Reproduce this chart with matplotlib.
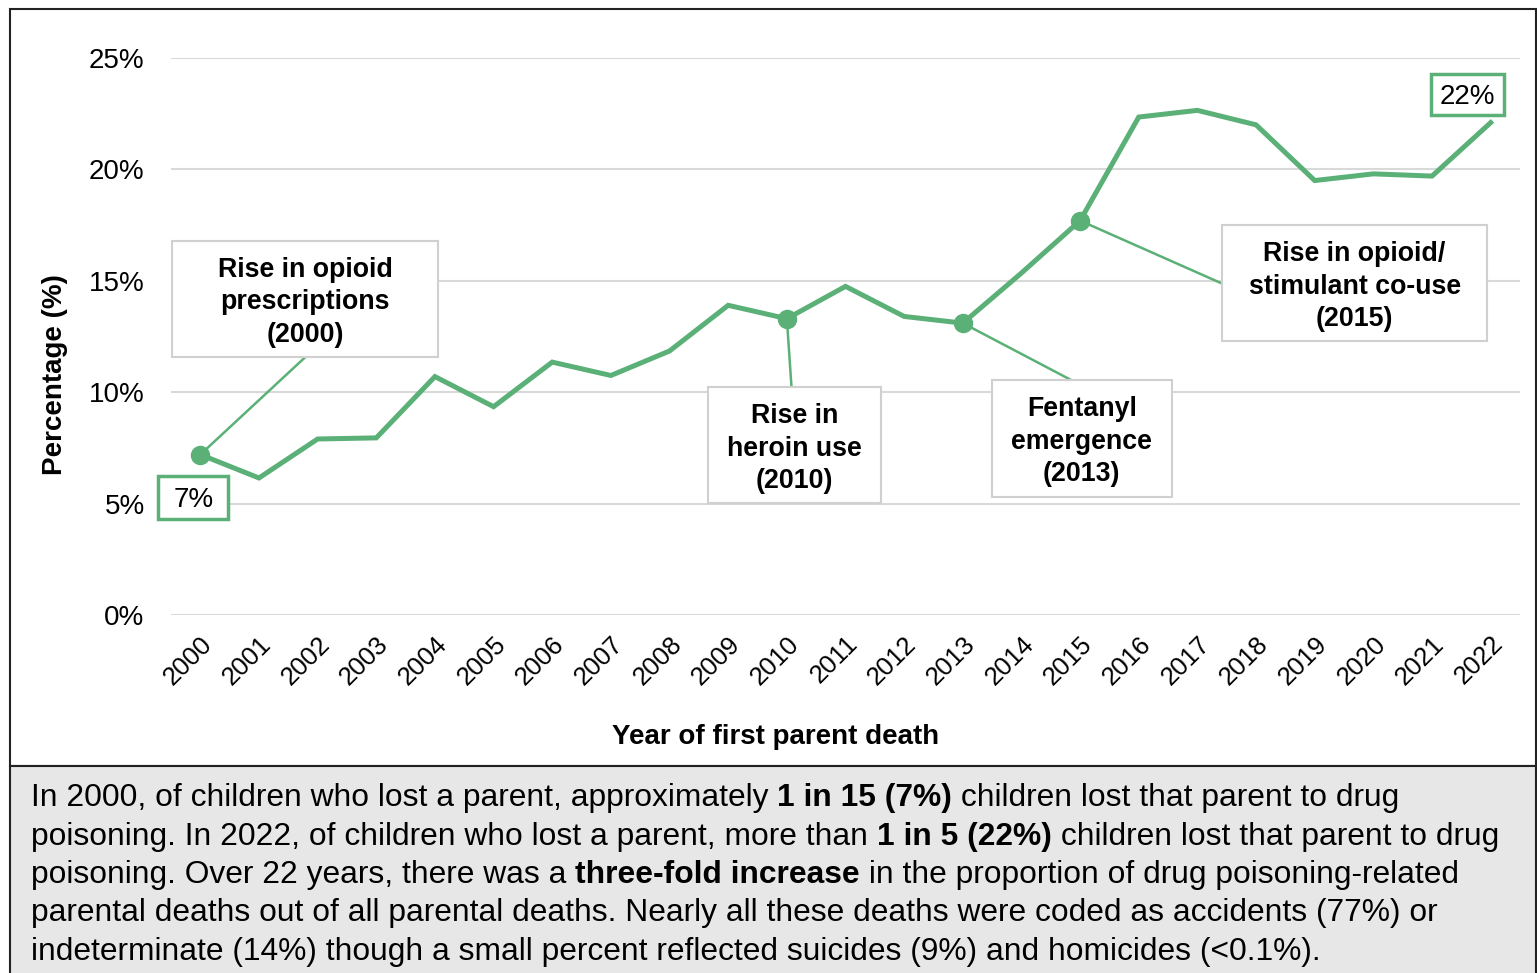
import numpy as np
import matplotlib.pyplot as plt
import matplotlib.transforms as mtransforms
from matplotlib.patches import Rectangle

plt.rcParams['font.family'] = ['Liberation Sans', 'DejaVu Sans']

# Data
years = [str(y) for y in range(2000, 2023)]
pct = [7.2, 6.15, 7.9, 7.95, 10.7, 9.35, 11.35, 10.75, 11.85, 13.9, 13.3,
       14.75, 13.4, 13.1, 15.35, 17.7, 22.35, 22.65, 22.0, 19.5, 19.8, 19.7, 22.1]
y_ticks = [0, 5, 10, 15, 20, 25]

# events: (year index, text, box centre x, box centre y, box w, box h, line end x, line end y)
events = [
    (0, "Rise in opioid\nprescriptions\n(2000)", 1.79, 14.19, 4.53, 5.21, 1.80, 11.6),
    (10, "Rise in\nheroin use\n(2010)", 10.13, 7.63, 2.95, 5.20, 10.08, 10.2),
    (13, "Fentanyl\nemergence\n(2013)", 15.03, 7.93, 3.08, 5.25, 14.88, 10.5),
    (15, "Rise in opioid/\nstimulant co-use\n(2015)", 19.68, 14.9, 4.51, 5.20, 17.40, 14.9),
]
end_labels = [(0, "7%", -0.12, 5.28, 1.19, 1.93), (22, "22%", 21.6, 23.36, 1.24, 1.84)]

green = '#5BB077'
W, H = 1537, 973

fig = plt.figure(figsize=(W / 100, H / 100), dpi=100)
ax = fig.add_axes([171 / W, 1 - 615 / H, 1349 / W, 557 / H])

x = np.arange(len(years))
ax.plot(x, pct, color=green, lw=3.6, zorder=4, solid_joinstyle='miter')

for idx, txt, cx, cy, bw, bh, lx, ly in events:
    ax.plot([idx, lx], [pct[idx], ly], color=green, lw=1.8, zorder=2)
    ax.plot(idx, pct[idx], 'o', color=green, ms=13, zorder=5)
    ax.add_patch(Rectangle((cx - bw / 2, cy - bh / 2), bw, bh, facecolor='white',
                           edgecolor='#d0d0d0', lw=1.5, zorder=3))
    ax.text(cx, cy - 0.16, txt, ha='center', va='center', fontsize=19.3, fontweight='bold',
            linespacing=1.32, zorder=6)

for idx, txt, cx, cy, bw, bh in end_labels:
    ax.add_patch(Rectangle((cx - bw / 2, cy - bh / 2), bw, bh, facecolor='white',
                           edgecolor=green, lw=2.5, zorder=3, clip_on=False))
    ax.text(cx, cy - 0.12, txt, ha='center', va='center', fontsize=20, zorder=6)

ax.set_xlim(-0.5, len(years) - 0.5)
ax.set_ylim(0, 25)
ax.set_xticks(x)
ax.set_xticklabels(years, rotation=45, ha='right', va='top', rotation_mode='anchor', fontsize=18.5)
shift = mtransforms.ScaledTranslation(-10 / 100, 0, fig.dpi_scale_trans)
for lab in ax.get_xticklabels():
    lab.set_transform(lab.get_transform() + shift)
ax.set_yticks(y_ticks)
ax.set_yticklabels([f"{v}%" for v in y_ticks], fontsize=20)
ax.tick_params(axis='both', length=0)
ax.tick_params(axis='y', pad=19)
ax.tick_params(axis='x', pad=12)
ax.grid(axis='y', color='#d9d9d9', lw=1.5, zorder=0)
ax.set_axisbelow(True)
for s in ax.spines.values():
    s.set_visible(False)

fig.text(776 / W, 1 - 737 / H, "Year of first parent death", ha='center', va='center',
         fontsize=20, fontweight='bold')
fig.text(55 / W, 1 - 375 / H, "Percentage (%)", ha='center', va='center', rotation=90,
         fontsize=20, fontweight='bold')

# frame and footer box
fig.add_artist(Rectangle((10 / W, 1 - 766 / H), (W - 11) / W, 757 / H, transform=fig.transFigure,
                         facecolor='none', edgecolor='#222222', lw=1.5))
fig.add_artist(Rectangle((10 / W, -0.01), (W - 11) / W, (973 - 766) / H + 0.01,
                         transform=fig.transFigure, facecolor='#e7e7e7', edgecolor='#222222', lw=1.5))

footer = [
    [("In 2000, of children who lost a parent, approximately ", 'normal'), ("1 in 15 (7%)", 'bold'),
     (" children lost that parent to drug", 'normal')],
    [("poisoning. In 2022, of children who lost a parent, more than ", 'normal'), ("1 in 5 (22%)", 'bold'),
     (" children lost that parent to drug", 'normal')],
    [("poisoning. Over 22 years, there was a ", 'normal'), ("three-fold increase", 'bold'),
     (" in the proportion of drug poisoning-related", 'normal')],
    [("parental deaths out of all parental deaths. Nearly all these deaths were coded as accidents (77%) or",
      'normal')],
    [("indeterminate (14%) though a small percent reflected suicides (9%) and homicides (<0.1%).", 'normal')],
]
foot_size = 22.9

renderer = fig.canvas.get_renderer()


def text_width(s, weight):
    t1 = fig.text(0, 0, "|" + s + "|", fontsize=foot_size, fontweight=weight)
    t2 = fig.text(0, 0, "||", fontsize=foot_size, fontweight=weight)
    w = t1.get_window_extent(renderer).width - t2.get_window_extent(renderer).width
    t1.remove()
    t2.remove()
    return w


for i, parts in enumerate(footer):
    px = 31
    py = 806 + i * 38.5
    for s, w in parts:
        fig.text(px / W, 1 - py / H, s, fontsize=foot_size, fontweight=w, va='baseline', ha='left')
        px += text_width(s, w)

fig.savefig("out.png", dpi=100)
